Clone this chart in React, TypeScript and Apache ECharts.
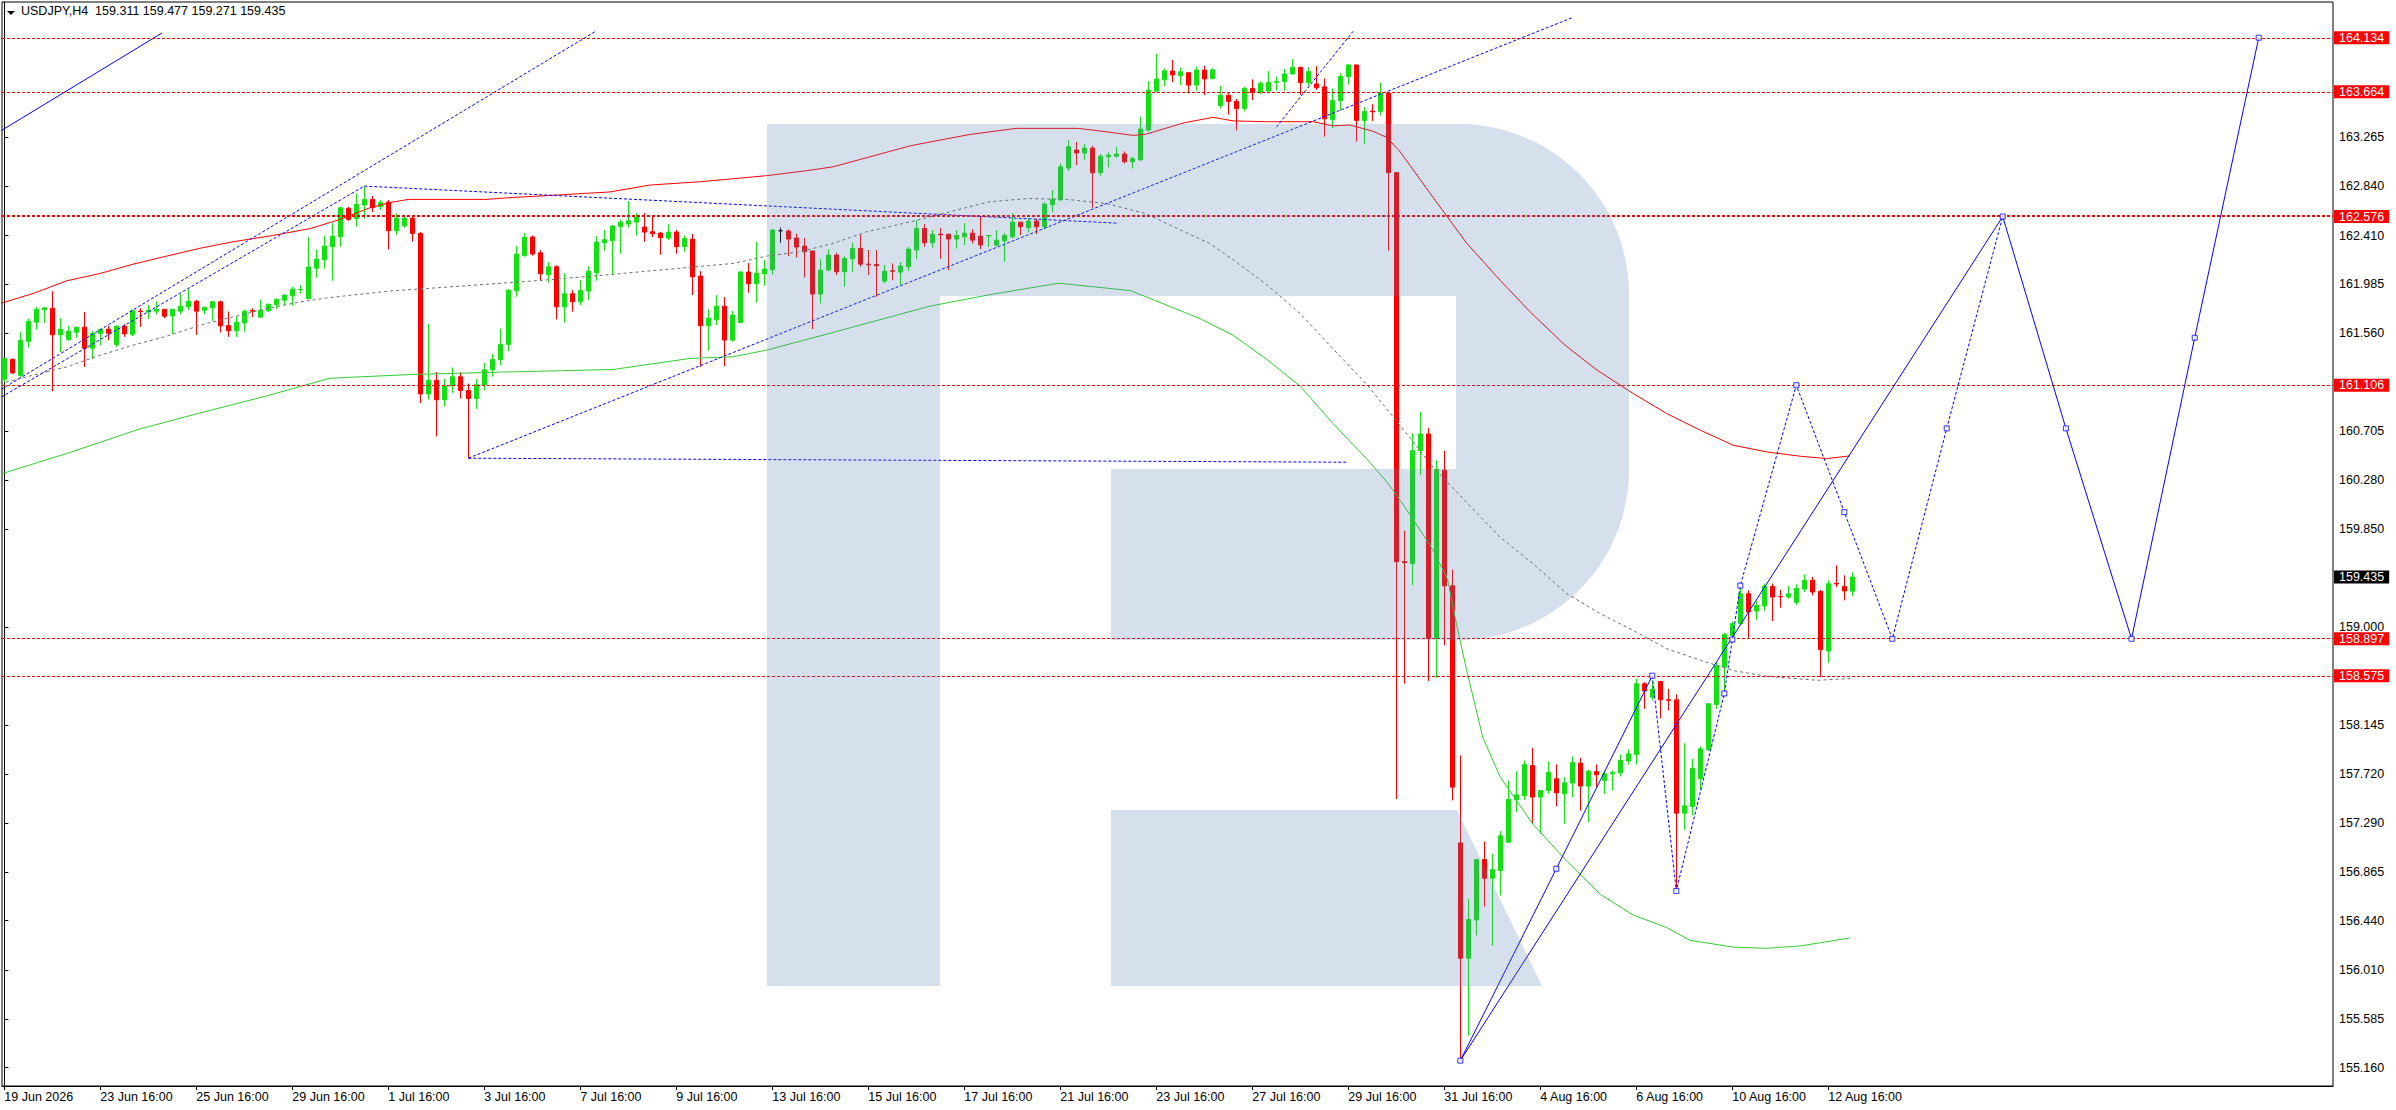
import React, { useEffect, useRef } from "react";
import * as echarts from "echarts";

const FONT = '"Liberation Sans", Arial, Helvetica, sans-serif';
const SYMBOL = "USDJPY,H4";

// time-axis labels, one every LABEL_STEP bars (H4)
const timeLabels = [
  "19 Jun 2026", "23 Jun 16:00", "25 Jun 16:00", "29 Jun 16:00", "1 Jul 16:00",
  "3 Jul 16:00", "7 Jul 16:00", "9 Jul 16:00", "13 Jul 16:00", "15 Jul 16:00",
  "17 Jul 16:00", "21 Jul 16:00", "23 Jul 16:00", "27 Jul 16:00", "29 Jul 16:00",
  "31 Jul 16:00", "4 Aug 16:00", "6 Aug 16:00", "10 Aug 16:00", "12 Aug 16:00",
];
const LABEL_STEP = 12;

// price-axis tick labels
const priceTicks = [
  163.265, 162.84, 162.41, 161.985, 161.56, 160.705, 160.28, 159.85, 159.0,
  158.145, 157.72, 157.29, 156.865, 156.44, 156.01, 155.585, 155.16,
];
// horizontal levels (red)
const levelPrices = [164.134, 163.664, 162.576, 161.106, 158.897, 158.575];
const thickLevel = 162.576;
const currentPrice = 159.435;

// candles: [open, high, low, close]
const ohlc: number[][] = [
  [161.158, 161.345, 161.13, 161.338], [161.332, 161.338, 161.205, 161.213], [161.19, 161.571, 161.178, 161.498],
  [161.489, 161.687, 161.434, 161.664], [161.655, 161.789, 161.591, 161.768], [161.763, 161.783, 161.646, 161.78],
  [161.777, 161.925, 161.053, 161.545], [161.545, 161.69, 161.396, 161.594], [161.504, 161.623, 161.492, 161.576],
  [161.568, 161.614, 161.519, 161.612], [161.612, 161.745, 161.266, 161.428], [161.428, 161.577, 161.333, 161.559],
  [161.556, 161.596, 161.455, 161.594], [161.594, 161.623, 161.498, 161.559], [161.46, 161.629, 161.437, 161.62],
  [161.62, 161.637, 161.527, 161.553], [161.55, 161.766, 161.533, 161.754], [161.752, 161.777, 161.614, 161.748],
  [161.745, 161.806, 161.684, 161.76], [161.751, 161.835, 161.722, 161.768], [161.768, 161.77, 161.69, 161.707],
  [161.71, 161.77, 161.553, 161.768], [161.751, 161.899, 161.722, 161.795], [161.789, 161.94, 161.76, 161.838],
  [161.838, 161.85, 161.545, 161.751], [161.76, 161.788, 161.725, 161.786], [161.78, 161.841, 161.667, 161.833],
  [161.833, 161.844, 161.565, 161.623], [161.626, 161.748, 161.527, 161.58], [161.58, 161.707, 161.527, 161.655],
  [161.649, 161.766, 161.571, 161.751], [161.757, 161.777, 161.702, 161.751], [161.699, 161.853, 161.696, 161.76],
  [161.754, 161.814, 161.745, 161.812], [161.809, 161.858, 161.771, 161.856], [161.847, 161.897, 161.803, 161.891],
  [161.885, 161.963, 161.798, 161.943], [161.937, 161.978, 161.905, 161.94], [161.859, 162.397, 161.856, 162.135],
  [162.126, 162.289, 162.042, 162.205], [162.199, 162.411, 162.121, 162.318], [162.312, 162.516, 162.016, 162.405],
  [162.4, 162.661, 162.312, 162.652], [162.647, 162.661, 162.539, 162.551], [162.557, 162.777, 162.487, 162.682],
  [162.676, 162.841, 162.557, 162.725], [162.725, 162.754, 162.615, 162.655], [162.661, 162.719, 162.632, 162.699],
  [162.702, 162.719, 162.289, 162.452], [162.452, 162.603, 162.417, 162.562], [162.493, 162.586, 162.478, 162.562],
  [162.562, 162.58, 162.356, 162.429], [162.429, 162.44, 160.95, 161.03], [161.03, 161.64, 160.98, 161.15],
  [161.15, 161.22, 160.66, 160.98], [160.98, 161.16, 160.92, 161.1], [161.1, 161.26, 161.04, 161.18],
  [161.18, 161.22, 160.99, 161.06], [161.06, 161.12, 160.47, 160.99], [160.99, 161.16, 160.9, 161.11],
  [161.11, 161.3, 161.06, 161.24], [161.24, 161.38, 161.18, 161.33], [161.33, 161.6, 161.28, 161.46],
  [161.46, 161.94, 161.4, 161.935], [161.929, 162.318, 161.877, 162.249], [162.237, 162.432, 162.225, 162.397],
  [162.397, 162.411, 162.234, 162.249], [162.26, 162.283, 162.016, 162.077], [162.068, 162.179, 161.999, 162.138],
  [162.138, 162.15, 161.679, 161.789], [161.789, 162.08, 161.65, 161.903], [161.903, 161.935, 161.746, 161.833],
  [161.833, 162.022, 161.804, 161.932], [161.926, 162.144, 161.847, 162.1], [162.086, 162.406, 162.016, 162.353],
  [162.347, 162.458, 162.278, 162.374], [162.365, 162.502, 162.066, 162.493], [162.487, 162.551, 162.252, 162.528],
  [162.51, 162.711, 162.478, 162.539], [162.528, 162.606, 162.409, 162.571], [162.484, 162.606, 162.356, 162.44],
  [162.443, 162.586, 162.397, 162.426], [162.432, 162.443, 162.243, 162.391], [162.388, 162.51, 162.371, 162.44],
  [162.44, 162.458, 162.252, 162.313], [162.313, 162.411, 162.269, 162.385], [162.379, 162.423, 161.891, 162.051],
  [162.057, 162.1, 161.266, 161.624], [161.624, 161.769, 161.406, 161.691], [161.676, 161.891, 161.63, 161.795],
  [161.795, 161.874, 161.272, 161.499], [161.499, 161.752, 161.485, 161.717], [161.653, 162.1, 161.644, 162.092],
  [162.092, 162.17, 161.912, 161.99], [161.99, 162.356, 161.824, 162.083], [162.077, 162.196, 161.973, 162.118],
  [162.112, 162.467, 162.071, 162.458], [162.452, 162.481, 162.347, 162.452], [162.449, 162.464, 162.231, 162.379],
  [162.388, 162.426, 162.22, 162.31], [162.318, 162.388, 162.045, 162.269], [162.275, 162.28, 161.595, 161.9],
  [161.9, 162.205, 161.818, 162.109], [162.109, 162.292, 162.098, 162.24], [162.24, 162.26, 162.066, 162.095],
  [162.095, 162.231, 161.964, 162.211], [162.208, 162.35, 162.095, 162.298], [162.298, 162.42, 162.138, 162.161],
  [162.161, 162.284, 162.066, 162.155], [162.158, 162.284, 161.877, 162.147], [162.013, 162.153, 161.993, 162.1],
  [162.103, 162.167, 162.022, 162.1], [162.092, 162.179, 161.979, 162.144], [162.138, 162.313, 162.1, 162.292],
  [162.284, 162.545, 162.205, 162.472], [162.472, 162.51, 162.313, 162.347], [162.347, 162.457, 162.303, 162.422],
  [162.422, 162.475, 162.207, 162.416], [162.422, 162.424, 162.109, 162.379], [162.379, 162.457, 162.297, 162.411],
  [162.399, 162.518, 162.327, 162.431], [162.431, 162.466, 162.341, 162.37], [162.405, 162.571, 162.292, 162.327],
  [162.406, 162.413, 162.312, 162.411], [162.327, 162.457, 162.312, 162.37], [162.364, 162.434, 162.181, 162.411],
  [162.399, 162.606, 162.385, 162.527], [162.527, 162.529, 162.414, 162.486], [162.478, 162.559, 162.437, 162.536],
  [162.536, 162.559, 162.423, 162.486], [162.486, 162.701, 162.463, 162.684], [162.678, 162.806, 162.614, 162.727],
  [162.722, 163.041, 162.71, 163.009], [162.998, 163.242, 162.972, 163.184], [163.155, 163.225, 163.024, 163.129],
  [163.129, 163.21, 163.068, 163.172], [163.172, 163.19, 162.652, 162.957], [162.957, 163.12, 162.931, 163.102],
  [163.097, 163.134, 163.004, 163.111], [163.102, 163.184, 163.088, 163.12], [163.12, 163.143, 163.039, 163.053],
  [163.053, 163.097, 162.995, 163.079], [163.071, 163.445, 163.059, 163.338], [163.329, 163.756, 163.315, 163.678],
  [163.669, 163.992, 163.66, 163.774], [163.768, 163.867, 163.713, 163.846], [163.844, 163.939, 163.745, 163.809],
  [163.803, 163.873, 163.721, 163.838], [163.829, 163.831, 163.649, 163.721], [163.721, 163.881, 163.672, 163.852],
  [163.852, 163.89, 163.634, 163.774], [163.778, 163.868, 163.771, 163.854], [163.543, 163.713, 163.518, 163.633],
  [163.633, 163.651, 163.464, 163.579], [163.579, 163.601, 163.326, 163.518], [163.518, 163.709, 163.492, 163.691],
  [163.691, 163.771, 163.59, 163.655], [163.655, 163.753, 163.644, 163.738], [163.669, 163.843, 163.665, 163.745],
  [163.745, 163.796, 163.673, 163.753], [163.753, 163.861, 163.673, 163.818], [163.818, 163.948, 163.815, 163.876],
  [163.876, 163.88, 163.637, 163.742], [163.742, 163.876, 163.716, 163.839], [163.731, 163.886, 163.68, 163.698],
  [163.706, 163.778, 163.272, 163.427], [163.42, 163.691, 163.344, 163.586], [163.586, 163.825, 163.5, 163.796],
  [163.796, 163.904, 163.724, 163.897], [163.897, 163.9, 163.229, 163.413], [163.413, 163.529, 163.21, 163.492],
  [163.495, 163.554, 163.409, 163.489], [163.492, 163.742, 163.456, 163.651], [163.651, 163.662, 162.278, 162.958],
  [162.958, 162.96, 157.5, 159.568], [159.57, 159.839, 158.505, 159.56], [159.553, 160.688, 159.362, 160.536],
  [160.536, 160.872, 160.327, 160.681], [160.681, 160.735, 158.53, 158.899], [158.899, 160.453, 158.556, 160.374],
  [160.366, 160.536, 158.84, 159.358], [159.358, 159.499, 157.488, 157.604], [157.118, 157.88, 155.221, 156.113],
  [156.113, 156.63, 155.439, 156.45], [156.447, 156.976, 156.311, 156.973], [156.973, 157.13, 156.563, 156.81],
  [156.81, 157.023, 156.223, 156.886], [156.877, 157.22, 156.659, 157.18], [157.124, 157.662, 157.12, 157.496],
  [157.493, 157.743, 157.386, 157.537], [157.531, 157.836, 157.493, 157.801], [157.793, 157.947, 157.284, 157.517],
  [157.517, 157.577, 157.197, 157.575], [157.575, 157.828, 157.546, 157.732], [157.677, 157.801, 157.438, 157.554],
  [157.546, 157.691, 157.284, 157.642], [157.639, 157.871, 157.517, 157.819], [157.813, 157.86, 157.4, 157.613],
  [157.613, 157.755, 157.299, 157.743], [157.74, 157.801, 157.604, 157.711], [157.662, 157.749, 157.546, 157.72],
  [157.72, 157.749, 157.575, 157.732], [157.729, 157.889, 157.697, 157.836], [157.831, 157.932, 157.801, 157.894],
  [157.889, 158.548, 157.801, 158.505], [158.505, 158.519, 158.287, 158.441], [158.388, 158.534, 158.36, 158.458],
  [158.525, 158.527, 158.205, 158.365], [158.365, 158.461, 158.272, 158.36], [158.365, 158.412, 156.703, 157.377],
  [157.377, 157.987, 157.232, 157.441], [157.435, 157.851, 157.357, 157.767], [157.679, 157.958, 157.581, 157.938],
  [157.929, 158.336, 157.918, 158.33], [158.325, 158.694, 158.287, 158.662], [158.65, 158.946, 158.441, 158.935],
  [158.926, 159.048, 158.912, 159.028], [159.028, 159.339, 159.013, 159.289], [159.289, 159.318, 158.906, 159.13],
  [159.138, 159.225, 159.063, 159.188], [159.182, 159.377, 159.138, 159.356], [159.353, 159.377, 159.051, 159.26],
  [159.266, 159.324, 159.167, 159.263], [159.26, 159.356, 159.246, 159.289], [159.214, 159.371, 159.193, 159.336],
  [159.33, 159.458, 159.304, 159.406], [159.406, 159.435, 159.275, 159.304], [159.31, 159.324, 158.563, 158.801],
  [158.79, 159.406, 158.685, 159.377], [159.38, 159.536, 159.348, 159.374], [159.353, 159.449, 159.231, 159.313],
  [159.311, 159.477, 159.271, 159.435],
];

// moving averages: [bar index, price]
const redMA = [
  [-0.54, 161.818], [3.6, 161.905], [7.8, 162.016], [12, 162.08], [16.1, 162.161], [20.3, 162.231],
  [24.5, 162.3], [28.6, 162.356], [33.5, 162.41], [38.3, 162.472], [41.7, 162.545], [45.7, 162.652],
  [48.1, 162.696], [50.5, 162.725], [60.2, 162.725], [63.6, 162.742], [67.6, 162.757], [72.5, 162.777],
  [75.7, 162.79], [80.7, 162.85], [87, 162.879], [95.3, 162.932], [100.3, 162.975], [103.6, 163.009],
  [113.3, 163.193], [120.7, 163.291], [126.5, 163.344], [134.2, 163.344], [137.7, 163.315], [141.1, 163.283],
  [142.6, 163.291], [147.5, 163.393], [151.1, 163.44], [153.6, 163.409], [157.8, 163.402], [163.6, 163.402],
  [166.1, 163.366], [168.2, 163.373], [171.1, 163.319], [172.8, 163.265], [174.5, 163.138], [178.6, 162.741],
  [182.8, 162.343], [187, 162.018], [190.7, 161.747], [195, 161.46], [199.1, 161.237], [203.6, 161.034],
  [207.8, 160.859], [212, 160.714], [216.1, 160.583], [220.3, 160.525], [224.5, 160.487], [227.8, 160.467],
  [230.7, 160.49],
];
const greenMA = [
  [-0.54, 160.33], [8.2, 160.52], [16.7, 160.72], [24.5, 160.865], [32.8, 161.013], [40.7, 161.167],
  [51.1, 161.2], [62, 161.22], [76.1, 161.243], [85.7, 161.339], [91.1, 161.354], [95.3, 161.412],
  [103.6, 161.566], [115.7, 161.795], [123.6, 161.9], [131.8, 161.995], [140.8, 161.93], [149.5, 161.685],
  [153.6, 161.541], [157.8, 161.331], [162, 161.096], [166.1, 160.771], [170.3, 160.464], [172.8, 160.265],
  [174.5, 160.103], [176.6, 159.885], [178.6, 159.669], [180.4, 159.416], [181.6, 159.0], [182.8, 158.62],
  [184.8, 158.04], [187, 157.69], [191.1, 157.28], [195.3, 156.96], [199.5, 156.67], [203.6, 156.49],
  [207.8, 156.38], [210.7, 156.27], [216.1, 156.21], [220.3, 156.2], [224.5, 156.22], [230.7, 156.29],
];
const greyMA = [
  [-0.54, 161.12], [3.6, 161.193], [7.8, 161.266], [12, 161.368], [16.1, 161.455], [20.3, 161.533],
  [24.5, 161.629], [28.6, 161.702], [32.8, 161.774], [37, 161.832], [40.7, 161.87], [48.1, 161.926],
  [57.8, 161.973], [67.6, 162.022], [75.7, 162.07], [82.8, 162.115], [91.1, 162.167], [95.3, 162.231],
  [99.5, 162.269], [103.6, 162.342], [107.8, 162.443], [113.3, 162.53], [118.2, 162.617], [123.1, 162.704],
  [128, 162.733], [132.8, 162.725], [137.7, 162.69], [142.6, 162.603], [147.5, 162.443], [150.7, 162.34],
  [153.6, 162.199], [157.8, 161.982], [162, 161.729], [166.1, 161.422], [170.3, 161.114], [174.5, 160.753],
  [178.6, 160.392], [182.8, 160.084], [187, 159.78], [191.1, 159.55], [195.3, 159.29], [199.5, 159.115],
  [203.6, 158.97], [207.8, 158.81], [212, 158.71], [216.1, 158.62], [220.3, 158.57], [226.6, 158.535],
  [230.7, 158.55],
];

// trend lines: [bar index, price]
const channelSolid = [[-2, 163.256], [19.71, 164.175]];
const channelUpper = [[-2, 161.002], [73.96, 164.192]];
const channelLower = [[-2, 160.937], [45, 162.841]];
const triangleTop = [[45, 162.841], [139.1, 162.518]];
const risingSupport = [[58, 160.47], [195.9, 164.306]];
const flatSupport = [[58, 160.47], [168, 160.435]];
const steepLine = [[159, 163.355], [168.6, 164.19]];

// forecast paths
const forecastShort = [[182, 155.221], [194, 156.893], [206, 158.575]];
const forecastLong = [
  [182, 155.221], [249.8, 162.576], [257.7, 160.73], [265.9, 158.897], [273.8, 161.52], [281.8, 164.134],
];
const forecastDotted = [
  [206, 158.575], [209, 156.7], [215, 158.42], [216, 158.89], [217, 159.36], [224, 161.106],
  [230, 160.0], [236, 158.897], [242.8, 160.73], [249.8, 162.576],
];
const forecastNodes = [
  [182, 155.221], [194, 156.893], [206, 158.575], [209, 156.7], [215, 158.42], [216, 158.89],
  [217, 159.36], [224, 161.106], [230, 160.0], [236, 158.897], [242.8, 160.73], [249.8, 162.576],
  [257.7, 160.73], [265.9, 158.897], [273.8, 161.52], [281.8, 164.134],
];

// layout
const W = 2396;
const H = 1110;
const GRID = { left: 2, right: 63, top: 2, bottom: 24 };
const BAR_PX = 8;
const X_MIN = -0.29;
const X_MAX = X_MIN + (W - GRID.left - GRID.right) / BAR_PX;
const Y_MIN = 155.0;
const Y_MAX = 164.445;

const GREEN = "#14e014";
const RED = "#ff0000";
const BLUE = "#0000ff";
const LOGO_FILL = "rgba(83,127,175,0.24)";

function arcPts(cx: number, cy: number, r: number, a0: number, a1: number) {
  const pts: number[][] = [];
  const n = 24;
  for (let k = 0; k <= n; k++) {
    const a = ((a0 + ((a1 - a0) * k) / n) * Math.PI) / 180;
    pts.push([cx + r * Math.cos(a), cy + r * Math.sin(a)]);
  }
  return pts;
}

function logoGraphics() {
  const p: number[][] = [[767, 124], [1459, 124]];
  p.push(...arcPts(1459, 294, 170, -90, 0));
  p.push(...arcPts(1459, 470, 170, 0, 90));
  p.push([1111, 640], [1111, 469], [1456, 469], [1456, 296], [940, 296], [940, 986], [767, 986]);
  return [
    { type: "polygon", shape: { points: p }, style: { fill: LOGO_FILL }, z: 100, silent: true },
    {
      type: "polygon",
      shape: { points: [[1111, 810], [1457, 810], [1542, 986], [1111, 986]] },
      style: { fill: LOGO_FILL },
      z: 100,
      silent: true,
    },
    {
      type: "polygon",
      shape: { points: [[7, 11], [15, 11], [11, 15]] },
      style: { fill: "#000" },
      z: 101,
      silent: true,
    },
  ];
}

function line(data: number[][], color: string, width: number, type: any, z = 4) {
  return {
    type: "line",
    data,
    symbol: "none",
    silent: true,
    clip: true,
    z,
    lineStyle: { color, width, type },
    animation: false,
  };
}

function buildOption() {
  const last = ohlc[ohlc.length - 1];
  const header = `${SYMBOL}  ${last.map((v) => v.toFixed(3)).join(" ")}`;
  const xTicks = timeLabels.map((_, k) => k * LABEL_STEP);
  const yLabelValues = [...priceTicks, ...levelPrices, currentPrice];
  const near = (a: number, b: number) => Math.abs(a - b) < 1e-6;

  return {
    animation: false,
    backgroundColor: "#ffffff",
    textStyle: { fontFamily: FONT },
    title: {
      text: header,
      left: 21,
      top: 4,
      padding: 0,
      textStyle: { fontSize: 12.5, fontWeight: "normal", color: "#000", fontFamily: FONT },
    },
    grid: { ...GRID, show: true, borderColor: "#000", borderWidth: 1, backgroundColor: "transparent" },
    xAxis: {
      type: "value",
      min: X_MIN,
      max: X_MAX,
      axisLine: { show: true, lineStyle: { color: "#000", width: 1 } },
      axisTick: { show: true, length: 4, customValues: xTicks, lineStyle: { color: "#000" } },
      axisLabel: {
        customValues: xTicks,
        formatter: (v: number) => timeLabels[Math.round(v / LABEL_STEP)] ?? "",
        align: "left",
        margin: 4,
        color: "#000",
        fontSize: 12.5,
        fontFamily: FONT,
      },
      splitLine: { show: false },
    },
    yAxis: {
      type: "value",
      position: "right",
      min: Y_MIN,
      max: Y_MAX,
      axisLine: { show: true, lineStyle: { color: "#000", width: 1 } },
      axisTick: { show: true, length: 4, customValues: priceTicks, lineStyle: { color: "#000" } },
      axisLabel: {
        customValues: yLabelValues,
        margin: 1,
        formatter: (v: number) => {
          const s = v.toFixed(3);
          if (near(v, currentPrice)) return `{k|${s}}`;
          if (levelPrices.some((p) => near(p, v))) return `{r|${s}}`;
          return `{n|${s}}`;
        },
        rich: {
          n: { color: "#000", fontSize: 12.5, fontFamily: FONT, padding: [0, 0, 0, 5], lineHeight: 14 },
          r: {
            color: "#fff",
            backgroundColor: RED,
            fontSize: 12.5,
            fontFamily: FONT,
            padding: [0, 5, 0, 5],
            lineHeight: 14,
          },
          k: {
            color: "#fff",
            backgroundColor: "#000",
            fontSize: 12.5,
            fontFamily: FONT,
            padding: [0, 5, 0, 5],
            lineHeight: 14,
          },
        },
      },
      splitLine: { show: false },
    },
    graphic: logoGraphics(),
    series: [
      {
        type: "candlestick",
        data: ohlc.map((r, i) => [i, r[0], r[3], r[2], r[1]]),
        barWidth: 4,
        z: 3,
        silent: true,
        itemStyle: {
          color: GREEN,
          color0: RED,
          borderColor: GREEN,
          borderColor0: RED,
          borderColorDoji: "#000",
          borderWidth: 1,
        },
        markLine: {
          silent: true,
          symbol: ["none", "none"],
          label: { show: false },
          animation: false,
          data: levelPrices.map((p) => ({
            yAxis: p,
            lineStyle: { color: RED, width: near(p, thickLevel) ? 2 : 1, type: [3, 2] },
          })),
        },
      },
      line(greyMA, "#707070", 1, [3, 3]),
      line(redMA, RED, 1, "solid"),
      line(greenMA, "#32cd32", 1, "solid"),
      line(channelSolid, BLUE, 1, "solid"),
      line(channelUpper, BLUE, 1, [3, 2]),
      line(channelLower, BLUE, 1, [3, 2]),
      line(triangleTop, BLUE, 1, [3, 2]),
      line(risingSupport, BLUE, 1, [3, 2]),
      line(flatSupport, BLUE, 1, [3, 2]),
      line(steepLine, BLUE, 1, [3, 2]),
      line(forecastShort, BLUE, 1, "solid", 5),
      line(forecastLong, BLUE, 1, "solid", 5),
      line(forecastDotted, BLUE, 1, [3, 2], 5),
      {
        type: "scatter",
        data: forecastNodes,
        symbol: "rect",
        symbolSize: 5,
        silent: true,
        z: 6,
        itemStyle: { color: "#ffffff", borderColor: BLUE, borderWidth: 1 },
      },
    ],
  };
}

export default function App() {
  const ref = useRef<HTMLDivElement>(null);
  useEffect(() => {
    document.body.style.margin = "0";
    document.body.style.background = "#ffffff";
    if (!ref.current) return;
    const chart = echarts.init(ref.current, null, { renderer: "svg" });
    chart.setOption(buildOption() as any);
    return () => chart.dispose();
  }, []);
  return (
    <div
      ref={ref}
      style={{ position: "absolute", left: 0, top: 0, width: W, height: H, background: "#ffffff" }}
    />
  );
}
